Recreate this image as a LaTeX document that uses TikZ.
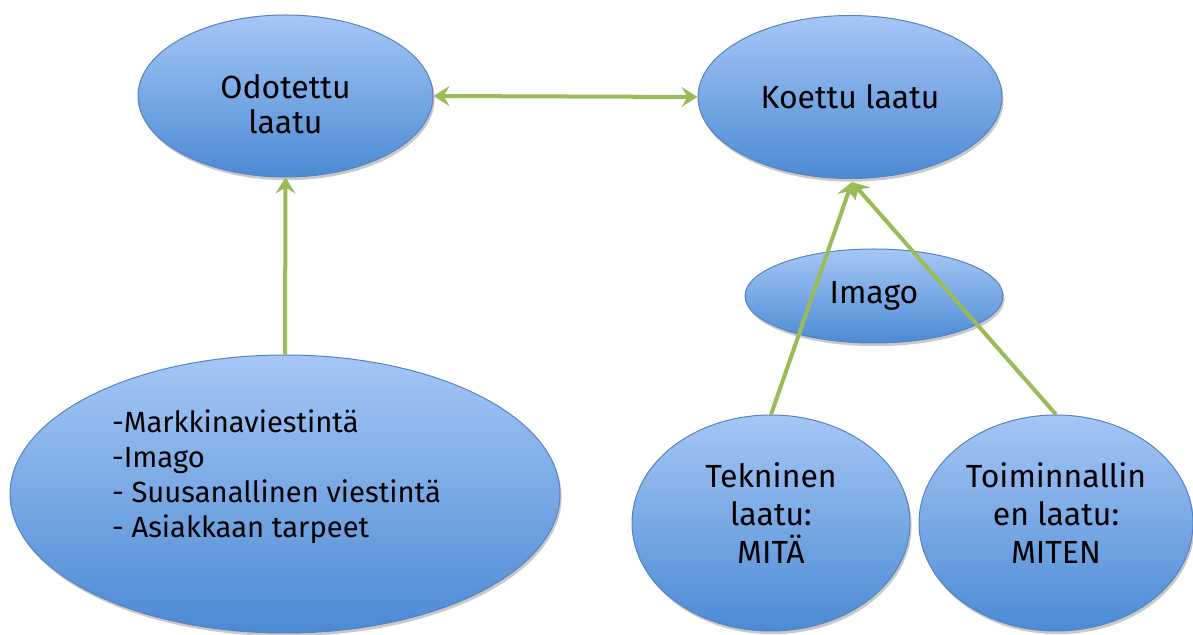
\documentclass[tikz,border=0pt]{standalone}
\usepackage{fontspec}
\setmainfont{Fira Sans}
\usepackage{tikz}
\usetikzlibrary{arrows.meta,shapes.geometric,shadows}
\definecolor{vaalea}{RGB}{165,199,246}
\definecolor{tumma}{RGB}{76,138,212}
\definecolor{reuna}{RGB}{84,132,192}
\definecolor{vihrea}{RGB}{155,187,89}
\tikzset{
  pallo/.style={ellipse,draw=reuna,line width=0.5pt,top color=vaalea,bottom color=tumma,
    inner sep=0pt,align=center,font=\fontsize{16}{17.5}\selectfont,
    drop shadow={shadow xshift=0.8pt,shadow yshift=-1.6pt,opacity=0.3,fill=black!70}},
  karki/.tip={Stealth[length=8pt,width=10pt,inset=3pt]},
  nuoli/.style={vihrea,line width=2pt,-karki},
}
\begin{document}
\begin{tikzpicture}[x=0.5pt,y=-0.5pt]
  \useasboundingbox (0,0) rectangle (1193,635);
  % ylarivi
  \node[pallo,minimum width=147.5pt,minimum height=81pt,text height=38pt] (odo) at (285.5,96) {Odotettu\\laatu};
  \node[pallo,minimum width=152pt,minimum height=81.5pt] (koe) at (850,97) {Koettu laatu};
  \node[pallo,minimum width=129pt,minimum height=47pt] (ima) at (874,296) {Imago};
  % alarivi
  \node[pallo,minimum width=275pt,minimum height=139pt] (mark) at (285,494) {};
  \node[align=left,anchor=west,font=\fontsize{14.6}{17.5}\selectfont] (marktxt) at (105,477)
       {-Markkinaviestintä\\-Imago\\- Suusanallinen viestintä\\- Asiakkaan tarpeet};
  \node[pallo,minimum width=139pt,minimum height=108pt,font=\fontsize{16}{19}\selectfont,text depth=10pt] (tek) at (771,523) {Tekninen\\laatu:\\MITÄ};
  \node[pallo,minimum width=137pt,minimum height=108pt,font=\fontsize{16}{19}\selectfont,text depth=10pt] (toi) at (1056,523) {Toiminnallin\\en laatu:\\MITEN};
  \coordinate (kohde) at (852,182);
  % nuolet
  \draw[nuoli] (mark.north) -- (odo.south);
  \draw[nuoli,karki-karki] (odo.east) -- (koe.west);
  \draw[nuoli] (tek.north) -- (kohde);
  \draw[nuoli] (toi.north) -- (kohde);
\end{tikzpicture}
\end{document}
